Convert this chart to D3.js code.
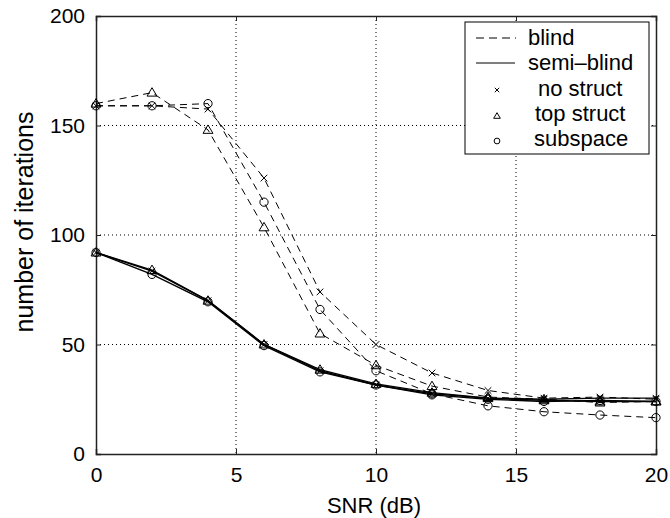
<!DOCTYPE html>
<html><head><meta charset="utf-8">
<script src="https://cdn.jsdelivr.net/npm/d3@7"></script>
<style>body{margin:0;background:#fff}svg{display:block}text{font-family:"Liberation Sans",Arial,Helvetica,sans-serif;fill:#000}</style>
</head><body>
<svg id="c" width="670" height="518"></svg>
<script>
const snr = [0,2,4,6,8,10,12,14,16,18,20];
const blindNoStruct  = [159,159,157.5,126,74,50,37,29,25.5,26,25];
const blindTopStruct = [160,165,148,103.5,55,40.5,31,26,25,23.5,24];
const blindSubspace  = [159,159,160,115,66,38,27.5,22,19.3,17.8,16.6];
const semiNoStruct   = [92,83.5,70,50,38,31.5,27.5,25.5,25,25.5,25.5];
const semiTopStruct  = [92,84,70,50,38.5,32,28,25.5,24.5,24,24];
const semiSubspace   = [92,82,69.5,49.5,37.5,31.5,27,25,24,24.5,24];
const xTicks = [0,5,10,15,20];
const yTicks = [0,50,100,150,200];
const legendLabels = ["blind","semi\u2013blind","no struct","top struct","subspace"];

const svg = d3.select("#c");
const L=96, R=656, T=16, B=454;
const x = d3.scaleLinear().domain([0,20]).range([L,R]);
const y = d3.scaleLinear().domain([0,200]).range([B,T]);

// grid
const g = svg.append("g");
g.selectAll(".gx").data(xTicks.filter(d=>d>0&&d<20)).enter().append("line")
 .attr("x1",d=>x(d)).attr("x2",d=>x(d)).attr("y1",T).attr("y2",B)
 .attr("stroke","#000").attr("stroke-width",1).attr("stroke-dasharray","1,3");
g.selectAll(".gy").data(yTicks.filter(d=>d>0&&d<200)).enter().append("line")
 .attr("y1",d=>y(d)).attr("y2",d=>y(d)).attr("x1",L).attr("x2",R)
 .attr("stroke","#000").attr("stroke-width",1).attr("stroke-dasharray","1,3");

// axes with inward ticks
const ax = svg.append("g");
const xb = d3.axisBottom(x).tickValues(xTicks).tickSize(-5).tickPadding(13).tickFormat(d3.format("d"));
const xt = d3.axisTop(x).tickValues(xTicks).tickSize(-5).tickFormat("");
const yl = d3.axisLeft(y).tickValues(yTicks).tickSize(-5).tickPadding(11).tickFormat(d3.format("d"));
const yr = d3.axisRight(y).tickValues(yTicks).tickSize(-5).tickFormat("");
function styleAxis(s){
  s.select(".domain").attr("stroke","#222").attr("stroke-width",1.5);
  s.selectAll(".tick line").attr("stroke","#222").attr("stroke-width",1);
  s.selectAll("text").attr("font-size",21).attr("font-family",'"Liberation Sans",Arial,sans-serif').attr("fill","#000");
}
ax.append("g").attr("transform",`translate(0,${B})`).call(xb).call(styleAxis);
ax.append("g").attr("transform",`translate(0,${T})`).call(xt).call(styleAxis);
ax.append("g").attr("transform",`translate(${L},0)`).call(yl).call(styleAxis);
ax.append("g").attr("transform",`translate(${R},0)`).call(yr).call(styleAxis);

// labels
svg.append("text").attr("x",374).attr("y",513).attr("text-anchor","middle").attr("font-size",22).text("SNR (dB)");
svg.append("text").attr("transform","translate(33,222) rotate(-90)").attr("text-anchor","middle").attr("font-size",25).text("number of iterations");

// series
const line = d3.line().x((d,i)=>x(snr[i])).y(d=>y(d));
const series = [
  {v:blindNoStruct, dash:true, m:"x"},
  {v:blindTopStruct, dash:true, m:"t"},
  {v:blindSubspace, dash:true, m:"o"},
  {v:semiNoStruct, dash:false, m:"x"},
  {v:semiTopStruct, dash:false, m:"t"},
  {v:semiSubspace, dash:false, m:"o"}
];
function marker(sel, type, cx, cy, s){
  if(type==="x"){
    sel.append("path").attr("d",`M${cx-s},${cy-s}L${cx+s},${cy+s}M${cx-s},${cy+s}L${cx+s},${cy-s}`)
      .attr("stroke","#000").attr("stroke-width",1).attr("fill","none");
  } else if(type==="t"){
    sel.append("path").attr("d",`M${cx},${cy-s*1.5}L${cx+s*1.5},${cy+s*1.05}L${cx-s*1.5},${cy+s*1.05}Z`)
      .attr("stroke","#000").attr("stroke-width",1).attr("fill","none");
  } else {
    sel.append("circle").attr("cx",cx).attr("cy",cy).attr("r",s*1.25)
      .attr("stroke","#000").attr("stroke-width",1).attr("fill","none");
  }
}
const sg = svg.append("g");
series.forEach(s=>{
  sg.append("path").datum(s.v).attr("d",line).attr("fill","none").attr("stroke","#000")
    .attr("stroke-width",s.dash?1:1.4).attr("stroke-dasharray",s.dash?"7,5":null);
  s.v.forEach((d,i)=>marker(sg,s.m,x(snr[i]),y(d),3.3));
});

// legend
const lg = svg.append("g");
lg.append("rect").attr("x",465).attr("y",22).attr("width",184).attr("height",132)
  .attr("fill","#fff").attr("stroke","#000").attr("stroke-width",1);
const rowY = [38,63,89,114,139];
const textX = [528,528,538,535,534];
lg.append("line").attr("x1",476).attr("x2",516).attr("y1",rowY[0]).attr("y2",rowY[0])
  .attr("stroke","#000").attr("stroke-dasharray","8,5");
lg.append("line").attr("x1",476).attr("x2",515).attr("y1",rowY[1]).attr("y2",rowY[1])
  .attr("stroke","#000").attr("stroke-width",1);
marker(lg,"x",497,rowY[2]+1,2.2);
marker(lg,"t",497,rowY[3]+2,2.2);
marker(lg,"o",497,rowY[4]+2,2.3);
legendLabels.forEach((t,i)=>{
  lg.append("text").attr("x",textX[i]).attr("y",rowY[i]+7).attr("font-size",22).text(t);
});
</script>
</body></html>
